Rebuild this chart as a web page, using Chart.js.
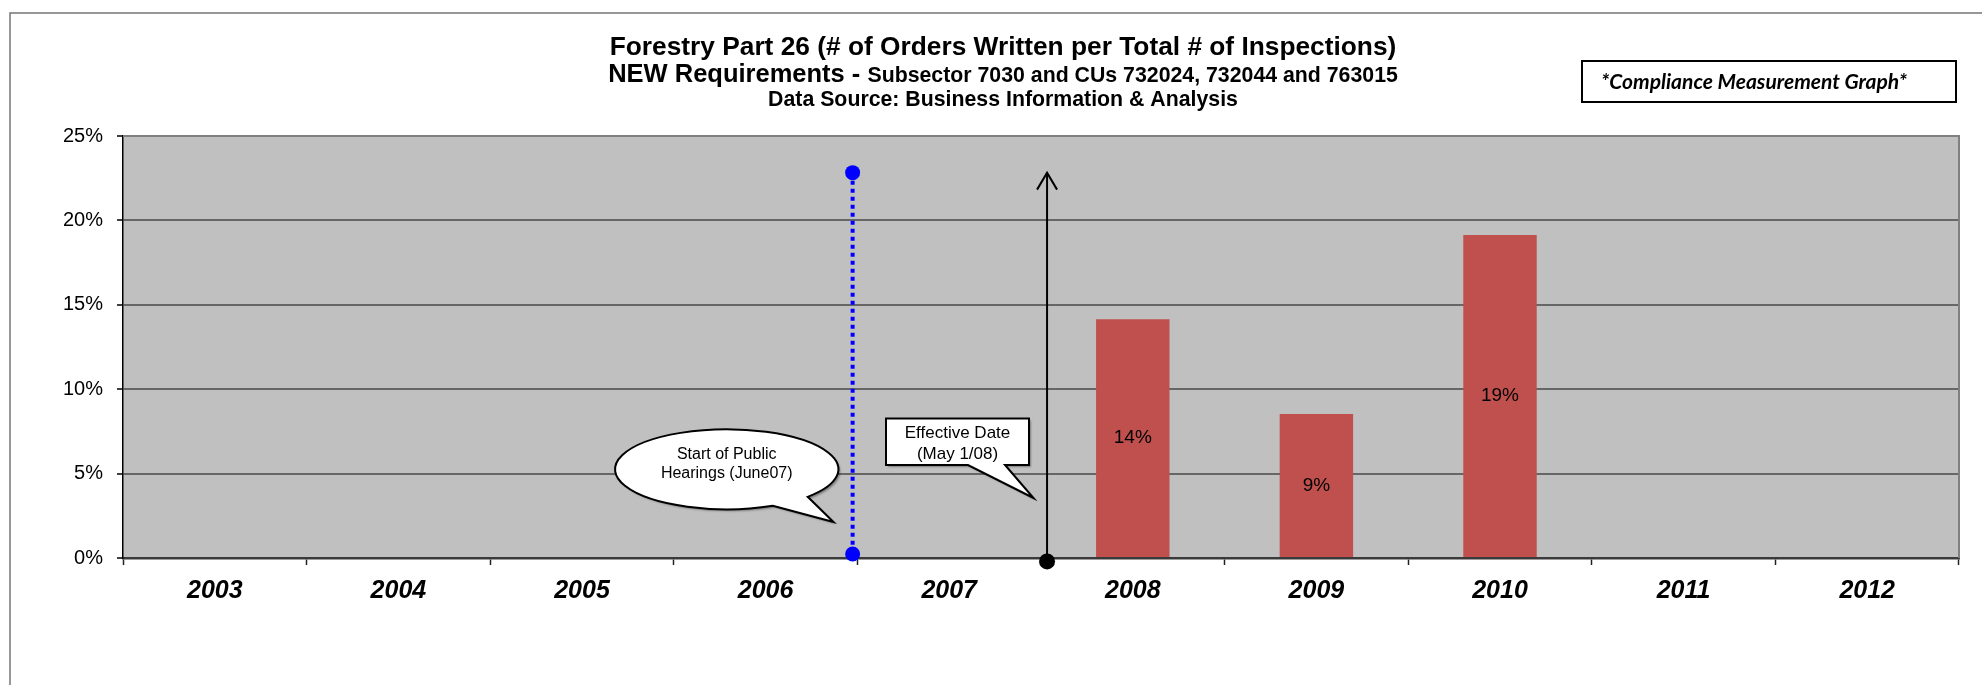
<!DOCTYPE html>
<html>
<head>
<meta charset="utf-8">
<script src="https://cdn.jsdelivr.net/npm/chart.js@4/dist/chart.umd.min.js"></script>
<style>
  html, body { margin: 0; padding: 0; background: #ffffff; }
  canvas { display: block; }
</style>
</head>
<body>
<canvas id="chart" width="1982" height="685"></canvas>
<script>
// ---- data ----
const years = ['2003', '2004', '2005', '2006', '2007', '2008', '2009', '2010', '2011', '2012'];
// orders written per total inspections (fraction)
const orderRates = [null, null, null, null, null, 0.1415, 0.0853, 0.1913, null, null];
// milestone markers on a continuous year-index axis (0 = 2003)
const hearingsMarker = [{ x: 3.474, y: 0.2283 }, { x: 3.474, y: 0.0024 }];
const effectiveMarker = [{ x: 4.533, y: -0.002 }, { x: 4.533, y: 0.2283 }];
const yTickValues = [0, 0.05, 0.10, 0.15, 0.20, 0.25];

const titleLine1 = 'Forestry Part 26 (# of Orders Written per Total # of Inspections)';
const titleLine2a = 'NEW Requirements - ';
const titleLine2b = 'Subsector 7030 and CUs 732024, 732044 and 763015';
const titleLine3 = 'Data Source: Business Information & Analysis';
const badgeText = '*Compliance Measurement Graph*';
const hearingsNote = ['Start of Public', 'Hearings (June07)'];
const effectiveNote = ['Effective Date', '(May 1/08)'];

const pct = v => Math.round(v * 100) + '%';
const SANS = "'Liberation Sans', Arial, sans-serif";

// ---- page furniture: frame, plot background, titles, badge ----
const backdrop = {
  id: 'backdrop',
  beforeDraw(chart) {
    const { ctx, chartArea: a } = chart;
    ctx.save();
    ctx.fillStyle = '#ffffff';
    ctx.fillRect(0, 0, chart.width, chart.height);
    ctx.strokeStyle = '#767676';
    ctx.lineWidth = 1.5;
    ctx.strokeRect(10, 13, chart.width + 20, chart.height + 20);
    ctx.fillStyle = '#c0c0c0';
    ctx.fillRect(a.left, a.top, a.right - a.left, a.bottom - a.top);
    ctx.restore();
  },
  beforeDatasetsDraw(chart) {
    const { ctx, chartArea: a } = chart;
    ctx.save();
    ctx.strokeStyle = '#808080';
    ctx.lineWidth = 2;
    ctx.beginPath();
    ctx.moveTo(a.left, a.top);
    ctx.lineTo(a.right, a.top);
    ctx.lineTo(a.right, a.bottom);
    ctx.stroke();
    ctx.restore();
  },
  afterDraw(chart) {
    const { ctx } = chart;
    const cx = 1003;
    ctx.save();
    ctx.fillStyle = '#000';
    ctx.textBaseline = 'middle';
    ctx.textAlign = 'center';
    ctx.font = 'bold 26.3px ' + SANS;
    ctx.fillText(titleLine1, cx, 48);

    // second line mixes two sizes
    const fA = 'bold 25.5px ' + SANS, fB = 'bold 21.3px ' + SANS;
    ctx.font = fA; const wA = ctx.measureText(titleLine2a).width;
    ctx.font = fB; const wB = ctx.measureText(titleLine2b).width;
    const x0 = cx - (wA + wB) / 2;
    ctx.textAlign = 'left';
    ctx.font = fA; ctx.fillText(titleLine2a, x0, 75);
    ctx.font = fB; ctx.fillText(titleLine2b, x0 + wA, 76);

    ctx.textAlign = 'center';
    ctx.font = 'bold 21.3px ' + SANS;
    ctx.fillText(titleLine3, cx, 100);

    // badge in the top-right corner
    ctx.fillStyle = '#ffffff';
    ctx.fillRect(1582, 61, 374, 41);
    ctx.strokeStyle = '#000';
    ctx.lineWidth = 2;
    ctx.strokeRect(1582, 61, 374, 41);
    ctx.fillStyle = '#000';
    ctx.font = "italic bold 21px Lato, 'Open Sans', sans-serif";
    ctx.fillText(badgeText, 1754, 82);
    ctx.restore();
  }
};

// ---- value labels inside the bars ----
const barLabels = {
  id: 'barLabels',
  afterDatasetsDraw(chart) {
    const { ctx } = chart;
    const meta = chart.getDatasetMeta(0);
    ctx.save();
    ctx.fillStyle = '#000';
    ctx.font = '19px ' + SANS;
    ctx.textAlign = 'center';
    ctx.textBaseline = 'middle';
    meta.data.forEach((bar, i) => {
      const v = orderRates[i];
      if (v == null) return;
      ctx.fillText(pct(v), bar.x, (bar.y + bar.base) / 2);
    });
    ctx.restore();
  }
};

// ---- arrowhead on the effective-date line and the two callouts ----
const callouts = {
  id: 'callouts',
  afterDatasetsDraw(chart) {
    const { ctx } = chart;
    const tip = chart.getDatasetMeta(2).data[1];
    ctx.save();
    ctx.strokeStyle = '#000';
    ctx.lineWidth = 2;
    ctx.beginPath();
    ctx.moveTo(tip.x - 10, tip.y + 17);
    ctx.lineTo(tip.x, tip.y);
    ctx.lineTo(tip.x + 10, tip.y + 17);
    ctx.stroke();

    // oval speech bubble
    const ex = 726.7, ey = 469.3, rx = 111.7, ry = 40;
    const a1 = 65.6 * Math.PI / 180, a2 = 43.5 * Math.PI / 180;
    ctx.beginPath();
    ctx.ellipse(ex, ey, rx, ry, 0, a1, a2 + 2 * Math.PI);
    ctx.lineTo(833.5, 522);
    ctx.closePath();
    ctx.save();
    ctx.shadowColor = 'rgba(0,0,0,0.35)';
    ctx.shadowOffsetX = 2; ctx.shadowOffsetY = 2; ctx.shadowBlur = 2;
    ctx.fillStyle = '#ffffff';
    ctx.fill();
    ctx.restore();
    ctx.stroke();

    // rectangular callout
    ctx.beginPath();
    ctx.moveTo(886, 418.5);
    ctx.lineTo(1029, 418.5);
    ctx.lineTo(1029, 465);
    ctx.lineTo(1005, 465);
    ctx.lineTo(1033.5, 498);
    ctx.lineTo(968, 465);
    ctx.lineTo(886, 465);
    ctx.closePath();
    ctx.save();
    ctx.shadowColor = 'rgba(0,0,0,0.35)';
    ctx.shadowOffsetX = 2; ctx.shadowOffsetY = 2; ctx.shadowBlur = 2;
    ctx.fillStyle = '#ffffff';
    ctx.fill();
    ctx.restore();
    ctx.stroke();

    ctx.fillStyle = '#000';
    ctx.textAlign = 'center';
    ctx.textBaseline = 'middle';
    ctx.font = '16px ' + SANS;
    ctx.fillText(hearingsNote[0], 726.7, 455);
    ctx.fillText(hearingsNote[1], 726.7, 473.5);
    ctx.font = '17px ' + SANS;
    ctx.fillText(effectiveNote[0], 957.5, 433.5);
    ctx.fillText(effectiveNote[1], 957.5, 454);
    ctx.restore();
  }
};

new Chart(document.getElementById('chart'), {
  type: 'bar',
  data: {
    labels: years,
    datasets: [
      {
        label: 'Orders per inspection',
        data: orderRates,
        backgroundColor: '#c0504d',
        borderWidth: 0,
        grouped: false,
        barPercentage: 0.4,
        categoryPercentage: 1.0,
        order: 3
      },
      {
        type: 'line',
        label: 'Start of public hearings',
        data: hearingsMarker,
        xAxisID: 'xl',
        borderColor: '#0000ff',
        borderWidth: 4,
        borderDash: [4, 4],
        pointRadius: 7.5,
        pointBackgroundColor: '#0000ff',
        pointBorderWidth: 0,
        tension: 0,
        clip: false,
        order: 1
      },
      {
        type: 'line',
        label: 'Effective date',
        data: effectiveMarker,
        xAxisID: 'xl',
        borderColor: '#000000',
        borderWidth: 2,
        pointRadius: [8, 0],
        pointBackgroundColor: '#000000',
        pointBorderWidth: 0,
        tension: 0,
        clip: false,
        order: 2
      }
    ]
  },
  options: {
    responsive: false,
    animation: false,
    events: [],
    layout: { padding: { top: 136, right: 23, bottom: 67, left: 0 } },
    plugins: { legend: { display: false }, title: { display: false }, tooltip: { enabled: false } },
    scales: {
      x: {
        type: 'category',
        offset: true,
        grid: {
          offset: true,
          drawOnChartArea: false,
          drawTicks: true,
          tickLength: 7,
          tickColor: '#222',
          tickWidth: 1.5
        },
        border: { display: true, color: '#3a3a3a', width: 2.5 },
        ticks: {
          color: '#000',
          padding: 11,
          maxRotation: 0,
          font: { family: SANS, size: 25, weight: 'bold', style: 'italic' }
        },
        afterFit(scale) { scale.height = 60; }
      },
      xl: {
        type: 'linear',
        display: false,
        offset: false,
        grace: 0,
        min: -0.5,
        max: 9.5
      },
      y: {
        min: 0,
        max: 0.25,
        afterBuildTicks(scale) { scale.ticks = yTickValues.map(v => ({ value: v })); },
        grid: {
          color: '#666666',
          lineWidth: 2,
          drawTicks: true,
          tickLength: 6,
          tickColor: '#000',
          tickWidth: 1.5
        },
        border: { display: true, color: '#000', width: 1.5 },
        ticks: {
          color: '#000',
          padding: 14,
          font: { family: SANS, size: 20 },
          callback: v => pct(v)
        },
        afterFit(scale) { scale.width = 123; }
      }
    }
  },
  plugins: [backdrop, barLabels, callouts]
});
</script>
</body>
</html>
